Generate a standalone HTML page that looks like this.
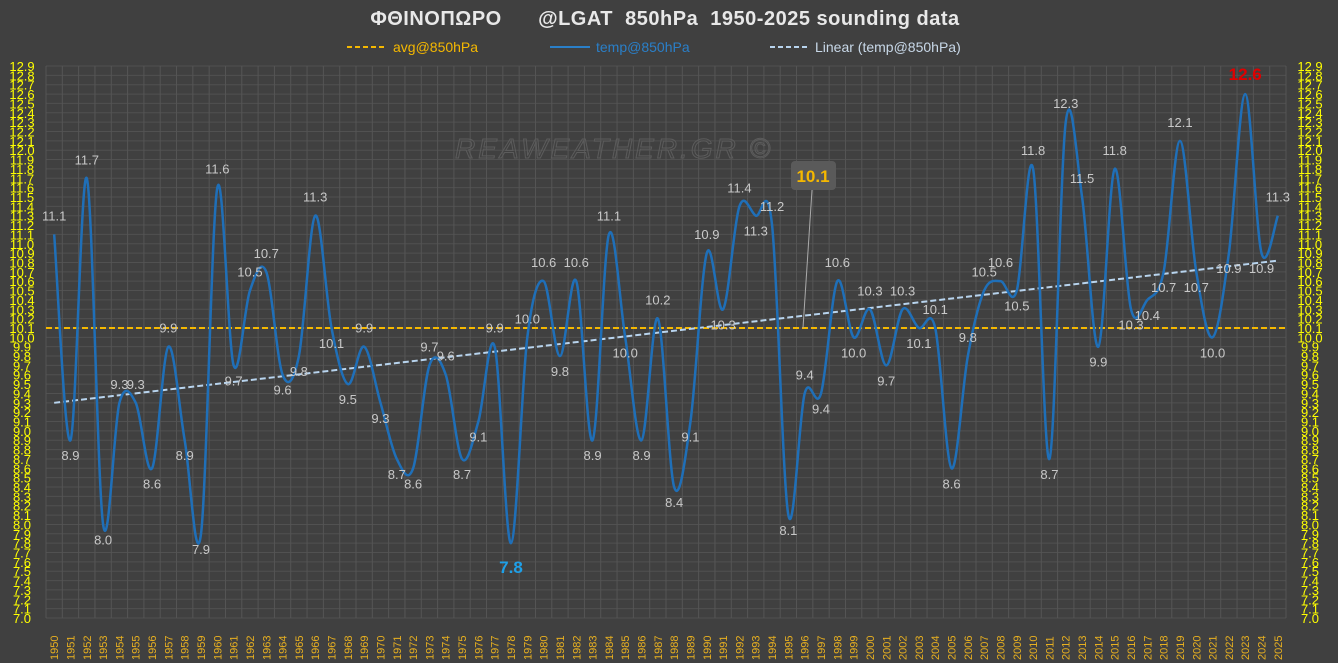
<!DOCTYPE html>
<html><head><meta charset="utf-8"><style>
body{margin:0;background:#404040;}
svg{display:block;font-family:"Liberation Sans","DejaVu Sans",sans-serif;}
</style></head><body>
<svg id="s" width="1338" height="663" xmlns="http://www.w3.org/2000/svg">
<rect width="1338" height="663" fill="#404040"/>
<text x="665" y="25" fill="#e8e8e8" font-size="20" font-weight="bold" text-anchor="middle" xml:space="preserve" letter-spacing="0.5">ΦΘΙΝΟΠΩΡΟ      @LGAT  850hPa  1950-2025 sounding data</text>
<line x1="347" y1="47" x2="387" y2="47" stroke="#f5b800" stroke-width="2" stroke-dasharray="5,3"/>
<text x="393" y="52" fill="#f5b800" font-size="14">avg@850hPa</text>
<line x1="550" y1="47" x2="590" y2="47" stroke="#2a7fc8" stroke-width="2"/>
<text x="596" y="52" fill="#2a7fc8" font-size="14">temp@850hPa</text>
<line x1="770" y1="47" x2="810" y2="47" stroke="#b8d4ee" stroke-width="2" stroke-dasharray="5,3"/>
<text x="815" y="52" fill="#c8d8e8" font-size="14">Linear (temp@850hPa)</text>
<g id="g"></g>
<text x="455" y="158" fill="none" stroke="#5c5c5c" stroke-width="1" font-size="28" font-style="italic" letter-spacing="3">REAWEATHER.GR ©</text>
</svg>
<script>
var d=[11.1,8.9,11.7,8.0,9.3,9.3,8.6,9.9,8.9,7.9,11.6,9.7,10.5,10.7,9.6,9.8,11.3,10.1,9.5,9.9,9.3,8.7,8.6,9.7,9.6,8.7,9.1,9.9,7.8,10.0,10.6,9.8,10.6,8.9,11.1,10.0,8.9,10.2,8.4,9.1,10.9,10.3,11.4,11.3,11.2,8.1,9.4,9.4,10.6,10.0,10.3,9.7,10.3,10.1,10.1,8.6,9.8,10.5,10.6,10.5,11.8,8.7,12.3,11.5,9.9,11.8,10.3,10.4,10.7,12.1,10.7,10.0,10.9,12.6,10.9,11.3];
var L=46,R=1286,T=66,B=618,n=76,cw=(R-L)/n;
function X(i){return L+cw*(i+0.5);}function Y(v){return T+(12.9-v)*(B-T)/5.9;}
var h='';
for(var k=0;k<=59;k++){var y=T+k*(B-T)/59;h+='<line x1="'+L+'" x2="'+R+'" y1="'+y+'" y2="'+y+'" stroke="#515151" stroke-width="1"/>';
var v=(12.9-k*0.1).toFixed(1);h+='<text x="22" y="'+(y+5)+'" fill="#ffff00" font-size="13" text-anchor="middle">'+v+'</text><text x="1310" y="'+(y+5)+'" fill="#ffff00" font-size="13" text-anchor="middle">'+v+'</text>';}
for(var i=0;i<=n;i++){var x=L+i*cw;h+='<line x1="'+x+'" x2="'+x+'" y1="'+T+'" y2="'+B+'" stroke="#555"/>';}
for(var i=0;i<n;i++){h+='<text transform="translate('+(X(i)+4)+',660) rotate(-90)" fill="#e8b020" font-size="11">'+(1950+i)+'</text>';}
h+='<line x1="'+L+'" x2="'+R+'" y1="'+Y(10.1)+'" y2="'+Y(10.1)+'" stroke="#f5b800" stroke-width="2" stroke-dasharray="6,3"/>';
var p='M'+X(0)+','+Y(d[0]);
for(var i=0;i<n-1;i++){var p0=i>0?i-1:i,p3=i+2<n?i+2:i+1;
var x1=X(i)+(X(i+1)-X(p0))/6,y1=Y(d[i])+(Y(d[i+1])-Y(d[p0]))/6,x2=X(i+1)-(X(p3)-X(i))/6,y2=Y(d[i+1])-(Y(d[p3])-Y(d[i]))/6;
p+=' C'+x1+','+y1+' '+x2+','+y2+' '+X(i+1)+','+Y(d[i+1]);}
h+='<line x1="'+X(0)+'" y1="'+Y(9.3)+'" x2="'+X(75)+'" y2="'+Y(10.82)+'" stroke="#b8d4ee" stroke-width="2" stroke-dasharray="6,3"/>';
h+='<path d="'+p+'" fill="none" stroke="#1f6fb8" stroke-width="2.5"/>';
for(var i=0;i<n;i++){var v=d[i],pr=i>0?d[i-1]:v-1,nx=i<n-1?d[i+1]:v-1;
var up=(v>=pr&&v>=nx)||(v>(pr+nx)/2);var y=up?Y(v)-14:Y(v)+20;
if(i==73){h+='<text x="'+X(i)+'" y="'+(Y(v)-14)+'" fill="#e00000" font-size="17" font-weight="bold" text-anchor="middle">12.6</text>';continue;}
if(i==28){h+='<text x="'+X(i)+'" y="'+(Y(v)+30)+'" fill="#1ea0e8" font-size="17" font-weight="bold" text-anchor="middle">7.8</text>';continue;}
h+='<text x="'+X(i)+'" y="'+y+'" fill="#c8c8c8" font-size="13" text-anchor="middle">'+v.toFixed(1)+'</text>';}
h+='<line x1="803" y1="328" x2="812" y2="190" stroke="#aaa" stroke-width="1"/>';
h+='<rect x="791" y="161" width="45" height="29" rx="4" fill="#5a5a5a"/><text x="813" y="182" fill="#f5b800" font-size="17" font-weight="bold" text-anchor="middle">10.1</text>';
document.getElementById('g').innerHTML=h;
</script>
</body></html>
